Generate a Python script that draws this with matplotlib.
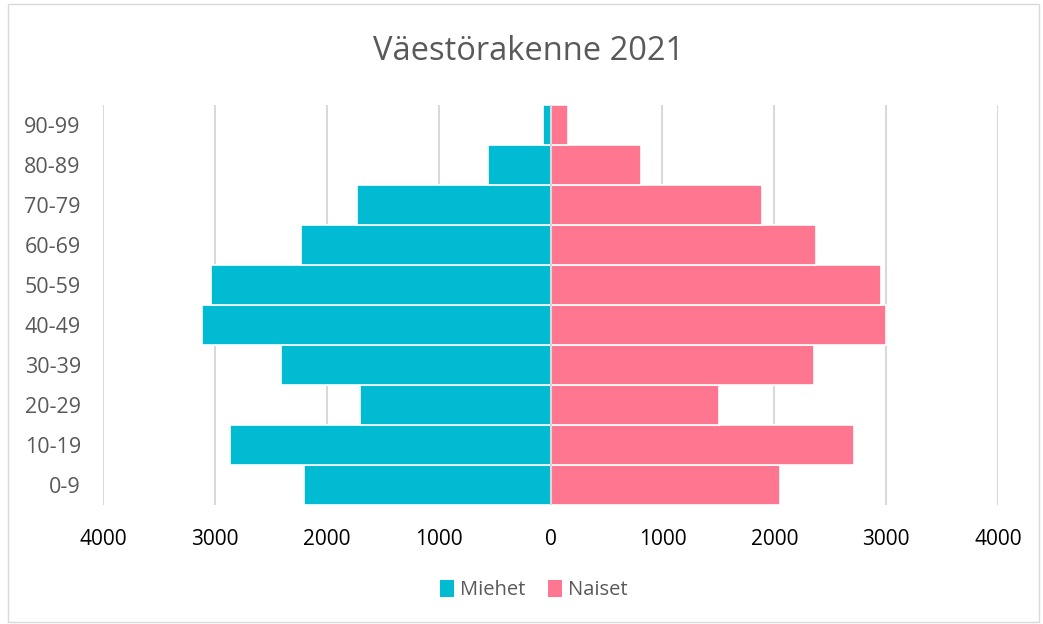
import matplotlib
matplotlib.use("Agg")
import matplotlib.pyplot as plt
from matplotlib.patches import Rectangle, Patch

categories = ["0-9", "10-19", "20-29", "30-39", "40-49", "50-59", "60-69", "70-79", "80-89", "90-99"]
miehet = [2201, 2861, 1704, 2406, 3117, 3039, 2234, 1728, 559, 66]
naiset = [2054, 2716, 1508, 2358, 2998, 2957, 2373, 1894, 805, 152]
xticks = [-4000, -3000, -2000, -1000, 0, 1000, 2000, 3000, 4000]

c_m = "#00BBD1"
c_n = "#FF7691"
txt = "#595959"

plt.rcParams['font.family'] = ['Open Sans', 'DejaVu Sans']

fig = plt.figure(figsize=(10.43, 6.24), dpi=100)
fig.patches.append(Rectangle((0.008, 0.004), 0.988, 0.99, transform=fig.transFigure,
                             fill=False, edgecolor="#D9D9D9", linewidth=1))
ax = fig.add_axes([0.0988, 0.1907, 0.8581, 0.641])

y = list(range(len(categories)))
ax.barh(y, [-v for v in miehet], height=1.0, color=c_m, edgecolor="white", linewidth=1.2, zorder=3, label="Miehet")
ax.barh(y, naiset, height=1.0, color=c_n, edgecolor="white", linewidth=1.2, zorder=3, label="Naiset")

ax.set_xlim(-4000, 4000)
ax.set_ylim(-0.5, len(categories) - 0.5)
ax.set_xticks(xticks)
ax.set_xticklabels([str(abs(v)) for v in xticks], fontsize=15, color="black")
ax.set_yticks(y)
ax.set_yticklabels(categories, fontsize=15.5, color=txt)
ax.tick_params(axis="both", length=0)
ax.tick_params(axis="x", pad=17)
ax.tick_params(axis="y", pad=16)
for s in ax.spines.values():
    s.set_visible(False)
ax.grid(axis="x", color="#D9D9D9", linewidth=1.5, zorder=0)
ax.axvline(0, color="#D9D9D9", linewidth=1.5, zorder=4)

fig.text(0.507, 0.917, "Väestörakenne 2021", ha="center", va="center", fontsize=23.5, color=txt)

handles = [Patch(facecolor=c_m, edgecolor="none"), Patch(facecolor=c_n, edgecolor="none")]
fig.legend(handles, ["Miehet", "Naiset"], loc="center", bbox_to_anchor=(0.512, 0.054), ncol=2,
           frameon=False, fontsize=14.5, labelcolor=txt, handlelength=0.7, handleheight=0.9,
           handletextpad=0.3, columnspacing=1.1)

fig.savefig("out.png", dpi=100)
